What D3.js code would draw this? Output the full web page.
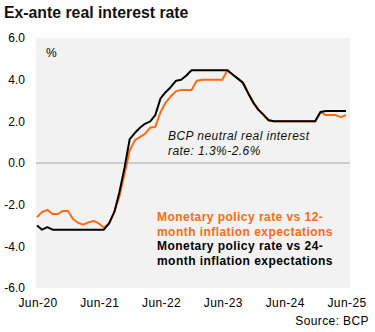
<!DOCTYPE html>
<html>
<head>
<meta charset="utf-8">
<script src="https://cdn.jsdelivr.net/npm/d3@7"></script>
<style>
	body { margin: 0; background: #fff; }
	svg text { font-family: Arial, "Liberation Sans", sans-serif; }
</style>
</head>
<body>
<div id="chart"></div>
<script>
// monthly data, Jun-20 .. Jun-25
var firstMonth = new Date(2020, 5, 1),
	lastMonth = new Date(2025, 5, 1);
var months = d3.timeMonth.range(firstMonth, d3.timeMonth.offset(lastMonth, 1));

// policy rate vs 12-month inflation expectations (orange)
var vs12m = [
	-2.6, -2.35, -2.25, -2.45, -2.45, -2.3, -2.3, -2.7, -2.88, -2.96,
	-2.85, -2.78, -2.9, -3.1, -2.9, -2.35, -1.6, -0.5, 0.6, 1.1,
	1.25, 1.4, 1.7, 1.73, 2.45, 2.9, 3.2, 3.45, 3.5, 3.5,
	3.5, 3.95, 4.0, 4.0, 4.0, 4.0, 4.0, 4.45, 4.25, 4.05,
	3.85, 3.35, 2.9, 2.55, 2.3, 2.05, 2.0, 2.0, 2.0, 2.0,
	2.0, 2.0, 2.0, 2.0, 2.0, 2.45, 2.3, 2.3, 2.3, 2.2,
	2.3
];

// policy rate vs 24-month inflation expectations (black)
var vs24m = [
	-3.0, -3.2, -3.08, -3.2, -3.2, -3.2, -3.2, -3.2, -3.2, -3.2,
	-3.2, -3.2, -3.2, -3.2, -2.9, -2.35, -1.4, -0.2, 1.15, 1.45,
	1.7, 1.88, 2.0, 2.3, 3.1, 3.4, 3.65, 3.95, 4.0, 4.2,
	4.45, 4.45, 4.45, 4.45, 4.45, 4.45, 4.45, 4.45, 4.25, 4.05,
	3.85, 3.35, 2.9, 2.55, 2.3, 2.05, 2.0, 2.0, 2.0, 2.0,
	2.0, 2.0, 2.0, 2.0, 2.0, 2.45, 2.5, 2.5, 2.5, 2.5,
	2.5
];

var yTicks = [-6, -4, -2, 0, 2, 4, 6];
var xTicks = [new Date(2020, 5, 1), new Date(2021, 5, 1), new Date(2022, 5, 1),
	new Date(2023, 5, 1), new Date(2024, 5, 1), new Date(2025, 5, 1)];
var xTickFormat = d3.timeFormat('%b-%y');

var W = 375, H = 332;
var plot = {left: 36, right: 350, top: 38, bottom: 288};
var orange = '#ff6a13';

var svg = d3.select('#chart')
	.append('svg')
	.attr('width', W)
	.attr('height', H);

var x = d3.scaleTime()
	.domain([firstMonth, lastMonth])
	.range([37, 346]);
var y = d3.scaleLinear()
	.domain([-6, 6])
	.range([plot.bottom, plot.top]);

// title
svg.append('text')
	.attr('x', 4)
	.attr('y', 18)
	.style('font-size', '15.8px')
	.style('font-weight', 'bold')
	.attr('fill', '#111')
	.text('Ex-ante real interest rate');

// plot background
svg.append('rect')
	.attr('x', plot.left)
	.attr('y', plot.top)
	.attr('width', plot.right - plot.left)
	.attr('height', plot.bottom - plot.top)
	.attr('fill', '#f2f2f2');

// zero line
svg.append('line')
	.attr('x1', plot.left)
	.attr('x2', plot.right)
	.attr('y1', y(0))
	.attr('y2', y(0))
	.attr('stroke', '#bfbfbf')
	.attr('stroke-width', 1.5);

// y axis labels
svg.append('g')
	.selectAll('text')
	.data(yTicks).enter()
	.append('text')
	.attr('x', 25)
	.attr('y', function(d){ return y(d); })
	.attr('dy', '0.35em')
	.attr('text-anchor', 'end')
	.style('font-size', '12px')
	.text(function(d){ return d.toFixed(1); });

// x axis labels
svg.append('g')
	.selectAll('text')
	.data(xTicks).enter()
	.append('text')
	.attr('x', function(d){ return x(d) + 1; })
	.attr('y', 307)
	.attr('text-anchor', 'middle')
	.style('font-size', '12px')
	.style('letter-spacing', '0.4px')
	.text(function(d){ return xTickFormat(d); });

svg.append('text')
	.attr('x', 46)
	.attr('y', 57)
	.style('font-size', '12px')
	.text('%');

// lines
var line = function(values){
	return d3.line()
		.x(function(d, i){ return x(months[i]); })
		.y(function(d){ return y(d); })(values);
};

svg.append('path')
	.attr('d', line(vs12m))
	.attr('fill', 'none')
	.attr('stroke', orange)
	.attr('stroke-width', 2)
	.attr('stroke-linejoin', 'round');

svg.append('path')
	.attr('d', line(vs24m))
	.attr('fill', 'none')
	.attr('stroke', '#000')
	.attr('stroke-width', 2)
	.attr('stroke-linejoin', 'round');

// annotation
var note = svg.append('text')
	.attr('x', 168)
	.attr('y', 140)
	.style('font-size', '12px')
	.style('font-style', 'italic')
	.style('letter-spacing', '0.45px')
	.attr('fill', '#111');
note.append('tspan').attr('x', 168).text('BCP neutral real interest');
note.append('tspan').attr('x', 168).attr('dy', 15).text('rate: 1.3%-2.6%');

// legend
var legendLines = [
	{text: 'Monetary policy rate vs 12-', color: orange},
	{text: 'month inflation expectations', color: orange},
	{text: 'Monetary policy rate vs 24-', color: '#000'},
	{text: 'month inflation expectations', color: '#000'}
];
svg.append('g')
	.selectAll('text')
	.data(legendLines).enter()
	.append('text')
	.attr('x', 157)
	.attr('y', function(d, i){ return 221 + i * 14.6; })
	.style('font-size', '12px')
	.style('font-weight', 'bold')
	.style('letter-spacing', '0.45px')
	.attr('fill', function(d){ return d.color; })
	.text(function(d){ return d.text; });

// source
svg.append('text')
	.attr('x', 369)
	.attr('y', 325)
	.attr('text-anchor', 'end')
	.style('font-size', '12px')
	.style('letter-spacing', '0.4px')
	.text('Source: BCP');
</script>
</body>
</html>
